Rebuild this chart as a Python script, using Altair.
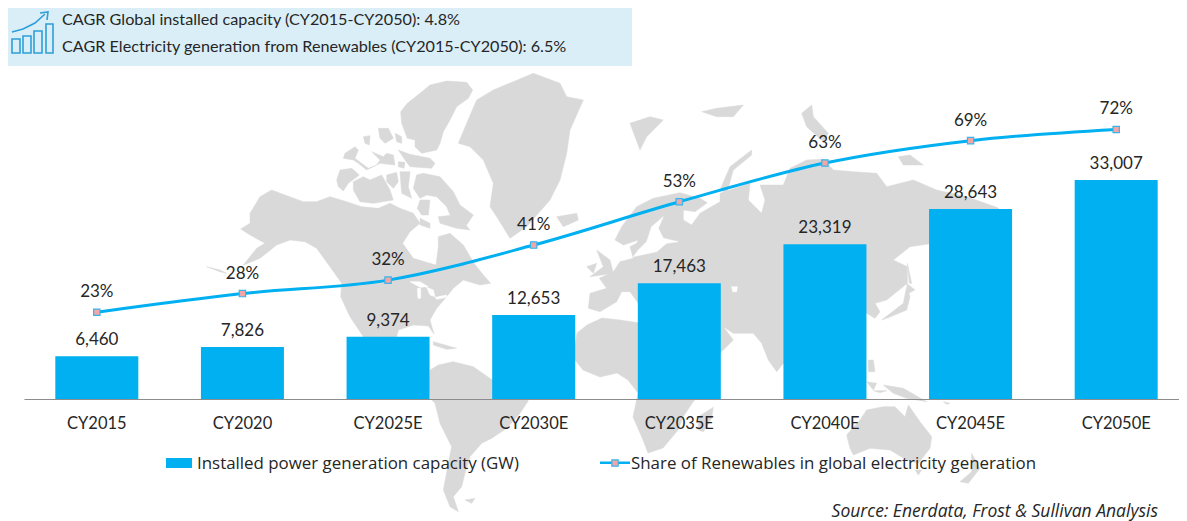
import altair as alt
import pandas as pd

FONT = "Lato"
WIDE = "Open Sans"
INK = "#262626"
BLUE = "#00B0F0"
GREY = "#D9D9D9"

categories = ["CY2015", "CY2020", "CY2025E", "CY2030E", "CY2035E", "CY2040E", "CY2045E", "CY2050E"]
capacity = [6460, 7826, 9374, 12653, 17463, 23319, 28643, 33007]
capacity_labels = ["6,460", "7,826", "9,374", "12,653", "17,463", "23,319", "28,643", "33,007"]
share = [23, 28, 31.6, 41, 52.6, 63, 69, 72]
share_labels = ["23%", "28%", "32%", "41%", "53%", "63%", "69%", "72%"]

# Rough coastlines of the backdrop map, in map units of several sheets.
america = [
    [(0,100),(30,50),(65,30),(105,45),(160,65),(200,65),(240,50),(290,65),(335,80),(385,85),(420,70),(450,85),(490,100),(510,130),(480,155),(458,190),(490,235),(540,250),(558,255),(565,200),(565,170),(600,160),(640,195),(672,250),(700,285),(722,310),(690,315),(640,300),(610,325),(590,350),(560,385),(540,420),(552,462),(535,438),(490,435),(445,450),(435,490),(320,490),(340,470),(300,410),(272,350),(275,310),(240,260),(200,205),(165,185),(120,180),(80,195),(30,235),(-20,255),(20,205),(45,190),(0,165),(-28,147),(0,130)],
]
arctic = [
    [(232,85),(270,55),(300,30),(350,18),(410,22),(428,45),(415,70),(380,95),(360,135),(340,170),(330,205),(320,225),(275,235),(255,215),(255,195),(232,190),(215,145),(212,110)],
    [(145,160),(175,160),(190,190),(165,205),(150,190)],
    [(195,175),(215,185),(215,205),(200,200)],
    [(100,185),(120,182),(118,210),(105,205)],
    [(205,225),(240,238),(300,250),(315,265),(305,280),(240,275),(225,255)],
    [(45,235),(75,215),(85,225),(75,250),(115,280),(140,270),(150,255),(130,235),(125,230),(160,245),(170,235),(190,240),(195,270),(150,265),(110,285),(85,265),(70,255),(40,250)],
    [(205,260),(225,262),(222,280),(205,275)],
    [(30,285),(65,280),(88,300),(55,325),(40,348),(25,335),(20,315)],
    [(70,320),(100,305),(120,315),(155,300),(180,345),(190,375),(130,385),(90,380),(70,345)],
    [(170,300),(200,292),(205,320),(190,340),(170,320)],
    [(210,290),(240,290),(235,335),(245,370),(215,355)],
    [(260,300),(280,295),(330,305),(370,350),(390,390),(430,420),(410,450),(360,420),(350,395),(320,365),(290,360),(270,370),(250,340)],
    [(325,425),(370,420),(400,440),(420,465),(380,460),(330,445)],
    [(270,430),(300,445),(300,460),(270,450)],
    [(270,375),(300,375),(295,420),(275,420),(262,400)],
]
west = [
    [(800,160),(830,90),(880,60),(1000,10),(1080,40),(1100,80),(1150,90),(1110,180),(1100,250),(1080,330),(1050,390),(980,470),(930,505),(890,440),(870,410),(880,340),(850,270),(810,230),(775,220)],
    [(1070,440),(1130,430),(1135,450),(1090,470)],
    [(1290,160),(1350,140),(1390,150),(1340,200),(1320,240)],
    [(1190,540),(1230,570),(1240,610),(1170,620),(1210,590)],
    [(1160,590),(1190,580),(1180,610)],
    [(700,815),(770,835),(740,838),(700,825)],
    [(20,590),(60,600),(80,610),(60,605)],
]
east = [
    [(-95,715),(-90,670),(-40,655),(-62,625),(-20,605),(0,575),(40,565),(30,530),(50,520),(55,510),(10,525),(-15,510),(5,470),(50,410),(100,385),(180,368),(240,385),(262,398),(225,425),(190,420),(190,450),(215,465),(240,430),(300,395),(300,370),(390,340),(385,390),(425,430),(435,390),(420,345),(490,345),(510,295),(560,270),(610,268),(640,300),(700,305),(770,310),(800,350),(880,330),(950,360),(1040,380),(1130,412),(1170,440),(1100,480),(940,520),(870,530),(820,570),(862,590),(862,640),(800,690),(765,700),(780,725),(765,745),(740,730),(600,800),(490,880),(470,905),(445,870),(425,820),(400,790),(340,790),(310,770),(340,810),(300,850),(200,900),(100,800),(55,700),(30,665),(5,665),(-10,695),(-60,725)],
    [(785,750),(850,700),(860,650),(870,680),(860,720),(800,745)],
    [(860,640),(885,660),(865,670)],
    [(862,580),(875,640),(868,640)],
    [(300,360),(330,290),(395,240),(395,255),(340,300),(320,370)],
    [(245,125),(290,115),(370,105),(340,140),(290,140)],
    [(835,260),(870,255),(910,285),(850,285)],
    [(545,130),(575,105),(580,140),(625,190),(610,215),(560,170)],
]
south_left = [
    [(30,30),(55,15),(100,5),(160,20),(217,60),(300,100),(325,122),(300,160),(260,205),(215,235),(185,250),(150,290),(135,340),(125,380),(100,410),(115,455),(90,440),(70,390),(85,310),(95,260),(60,190),(45,130),(30,115),(28,70)],
    [(135,420),(165,415),(155,430)],
    [(835,170),(880,142),(875,175),(850,215),(835,210)],
]
south_right = [
    [(20,225),(60,180),(80,150),(130,140),(165,140),(195,170),(205,135),(240,185),(275,230),(270,265),(235,310),(200,300),(150,270),(90,265),(40,285),(30,265)],
    [(225,330),(245,330),(235,345)],
    [(395,280),(420,325),(385,370),(360,365),(395,335)],
    [(130,75),(190,85),(260,125),(200,115),(160,100)],
    [(80,65),(110,70),(100,90)],
    [(85,0),(100,0),(105,35),(85,35)],
    [(100,92),(140,92),(120,98)],
    [(310,125),(330,130),(320,133)],
]
africa = [
    [(577,333),(587,325),(602,318),(620,320),(640,323),(700,350),(712,380),(693,402),(683,417),(678,430),(663,448),(648,453),(643,440),(633,417),(638,393),(628,380),(617,373),(600,377),(583,370),(575,360),(575,345)],
]
lakes_america = [
    [(480,305),(510,305),(535,320),(510,322)],
    [(502,325),(512,325),(512,355),(504,355)],
    [(530,322),(550,330),(555,350),(540,345)],
    [(555,352),(590,345),(590,352),(560,358)],
]
lakes_east = [
    [(40,560),(110,545),(140,520),(175,515),(130,505),(115,475),(130,440),(95,470),(80,515),(55,540)],
    [(335,650),(352,650),(350,665),(338,665)],
]
icon_bars = [
    [(12,39),(20,39),(20,53),(12,53)],
    [(23,36),(31,36),(31,53),(23,53)],
    [(34,31),(42,31),(42,53),(34,53)],
    [(46,24),(53,24),(53,53),(46,53)],
]
icon_arrow = [(12,32),(23,29),(35,23),(45,14)]
icon_head = [(40,13),(48,12),(47,20)]


def sheet(polys, ox, oy, f=3.0):
    return [[[x / f + ox - 8, y / f + oy - 8] for x, y in p] for p in polys]


def polygons(polys):
    return alt.Data(values=[{"type": "Feature", "properties": {},
                             "geometry": {"type": "Polygon", "coordinates": [p + p[:1]]}} for p in polys])


def lines(polys):
    return alt.Data(values=[{"type": "Feature", "properties": {},
                             "geometry": {"type": "LineString", "coordinates": p}} for p in polys])


FLAT = dict(type="identity", scale=1, translate=[0, 0])
land = (sheet(america, 250, 180) + sheet(arctic, 330, 75) + sheet(west, 200, 70) + sheet(east, 620, 70)
        + sheet(south_left, 420, 360) + sheet(south_right, 840, 360) + sheet(africa, 0, 0, 1.0))
water = sheet(lakes_america, 250, 180) + sheet(lakes_east, 620, 70)
icon_rings = sheet(icon_bars, 0, 0, 1.0)
icon_lines = sheet([icon_arrow, icon_head], 0, 0, 1.0)

map_land = alt.Chart(polygons(land)).mark_geoshape(fill=GREY, stroke=GREY, strokeWidth=0.5, clip=False).project(**FLAT)
map_water = alt.Chart(polygons(water)).mark_geoshape(fill="white", stroke="white", strokeWidth=0.5, clip=False).project(**FLAT)
icon_a = alt.Chart(polygons(icon_rings)).mark_geoshape(filled=False, stroke="#2E9FD8", strokeWidth=1.6, clip=False).project(**FLAT)
icon_b = alt.Chart(lines(icon_lines)).mark_geoshape(filled=False, stroke="#2E9FD8", strokeWidth=1.6, clip=False).project(**FLAT)


def at(px):
    return alt.value(px - 8)


def label(text, x, y, size=15, align="left", style="normal", font=FONT):
    return alt.Chart(pd.DataFrame({"t": [text]})).mark_text(
        font=font, fontSize=size, align=align, baseline="middle", fontStyle=style, color=INK
    ).encode(x=at(x), y=at(y), text="t:N")


def box(x, x2, y, y2, color):
    return alt.Chart(pd.DataFrame({"a": [0]})).mark_rect(color=color).encode(
        x=at(x), x2=at(x2), y=at(y), y2=at(y2))


df = pd.DataFrame({"cat": categories, "cap": capacity, "capl": capacity_labels,
                   "share": share, "sharel": share_labels})

x_enc = alt.X("cat:N", sort=categories, title=None,
              scale=alt.Scale(range=[16, 1181], paddingInner=0.43, paddingOuter=0.215),
              axis=alt.Axis(labelFont=FONT, labelFontSize=16.5, labelColor=INK, labelAngle=0,
                            domainColor="#8C8C8C", domainWidth=1, ticks=False, labelPadding=16,
                            grid=False, zindex=1))
y_bar = alt.Y("cap:Q", axis=None, scale=alt.Scale(domain=[0, 58930], range=[391, 0]))
y_line = alt.Y("share:Q", axis=None, scale=alt.Scale(domain=[0, 104.56], range=[390, 0]))

base = alt.Chart(df)
bars = base.mark_bar(color=BLUE).encode(x=x_enc, y=y_bar)
bar_text = base.mark_text(font=FONT, fontSize=17, color=INK, baseline="middle", dy=-16).encode(
    x=x_enc, y=y_bar, text="capl:N")
line = base.mark_line(color=BLUE, strokeWidth=3, interpolate="monotone").encode(x=x_enc, y=y_line)
dots = base.mark_point(shape="square", filled=True, fill="#F4A6A6", stroke="#35B5EE",
                       strokeWidth=1.2, opacity=1, size=40).encode(x=x_enc, y=y_line)
line_text = base.mark_text(font=FONT, fontSize=17, color=INK, baseline="middle", dy=-20).encode(
    x=x_enc, y=y_line, text="sharel:N")

legend_line = box(600, 630, 461.5, 464, BLUE)
legend_mark = alt.Chart(pd.DataFrame({"a": [0]})).mark_point(
    shape="square", filled=True, fill="#F4A6A6", stroke="#35B5EE", strokeWidth=1.2, opacity=1, size=40
).encode(x=at(615), y=at(463))

chart = alt.layer(
    map_land, map_water,
    box(0, 632, 2, 66, "#DAEEF8"),
    icon_a, icon_b,
    label("CAGR Global installed capacity (CY2015-CY2050): 4.8%", 62, 20, size=16.2),
    label("CAGR Electricity generation from Renewables (CY2015-CY2050): 6.5%", 62, 47, size=16.2),
    bars, bar_text, line, dots, line_text,
    box(166, 192, 458, 468, BLUE),
    label("Installed power generation capacity (GW)", 197, 464, size=16.9, font=WIDE),
    legend_line, legend_mark,
    label("Share of Renewables in global electricity generation", 631, 464, size=16.9, font=WIDE),
    label("Source: Enerdata, Frost & Sullivan Analysis", 1158, 512, align="right", style="italic", size=17.5, font=WIDE),
).resolve_scale(y="independent").properties(
    width=1171, height=391,
    padding={"left": 0, "top": 0, "right": 0, "bottom": 123},
    autosize=alt.AutoSizeParams(type="none"),
).configure_view(stroke=None)

chart.save("out.html", embed_options={"renderer": "svg", "actions": False})
